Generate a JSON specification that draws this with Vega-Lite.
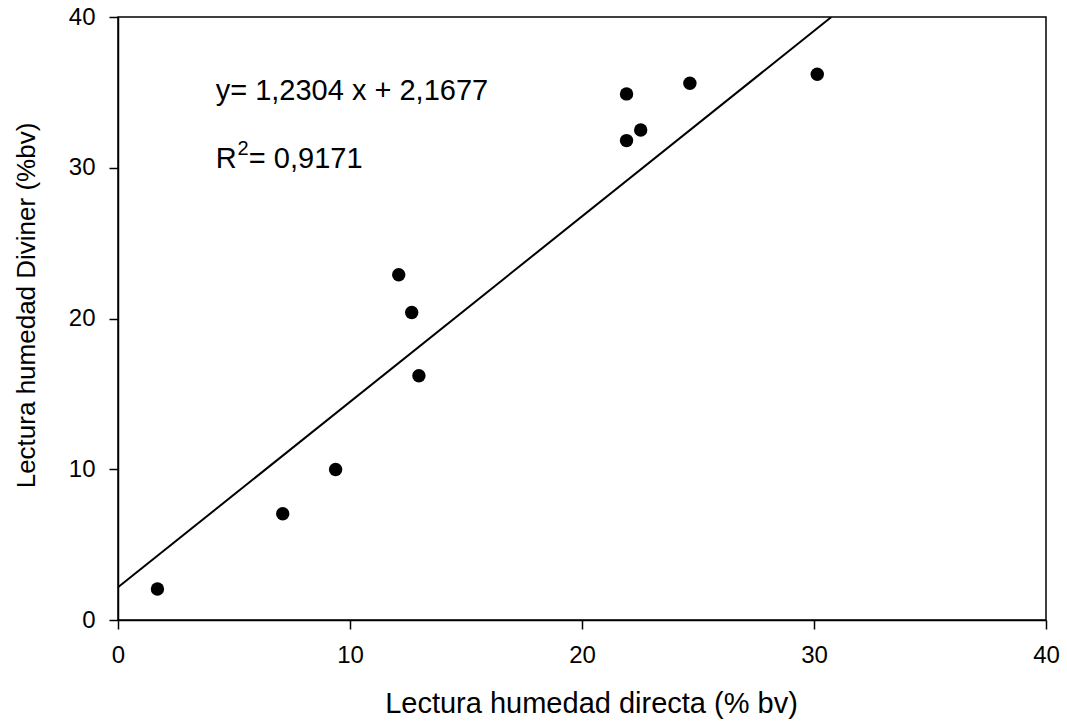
{
  "$schema": "https://vega.github.io/schema/vega-lite/v6.json",
  "width": 928,
  "height": 603,
  "autosize": {"type": "none"},
  "padding": {"left": 118, "top": 17, "right": 21, "bottom": 106},
  "background": "white",
  "config": {
    "font": "Liberation Sans",
    "view": {"stroke": "black", "strokeWidth": 1.5},
    "axis": {
      "grid": false,
      "domainColor": "black",
      "domainWidth": 1.5,
      "tickColor": "black",
      "tickWidth": 1.5,
      "tickSize": 9,
      "labelColor": "black",
      "labelFont": "Liberation Sans",
      "labelFontSize": 24,
      "titleColor": "black",
      "titleFont": "Liberation Sans",
      "titleFontWeight": "normal"
    }
  },
  "datasets": {
    "points": [
      {"directa": 1.70, "diviner": 2.06},
      {"directa": 7.10, "diviner": 7.05},
      {"directa": 9.38, "diviner": 9.98},
      {"directa": 12.10, "diviner": 22.9},
      {"directa": 12.66, "diviner": 20.4},
      {"directa": 12.97, "diviner": 16.2},
      {"directa": 21.92, "diviner": 34.9},
      {"directa": 21.92, "diviner": 31.8},
      {"directa": 22.53, "diviner": 32.5},
      {"directa": 24.65, "diviner": 35.6},
      {"directa": 30.14, "diviner": 36.2}
    ],
    "fit": [
      {"directa": 0, "diviner": 2.1677},
      {"directa": 30.75, "diviner": 40}
    ]
  },
  "layer": [
    {
      "data": {"name": "fit"},
      "mark": {"type": "line", "color": "black", "strokeWidth": 2, "clip": true},
      "encoding": {
        "x": {
          "field": "directa", "type": "quantitative",
          "scale": {"domain": [0, 40], "nice": false, "zero": false},
          "axis": {
            "values": [0, 10, 20, 30, 40],
            "title": "Lectura humedad directa (% bv)",
            "titleFontSize": 29,
            "labelPadding": 14,
            "titlePadding": 22,
            "titleX": 473,
            "labelFlush": false
          }
        },
        "y": {
          "field": "diviner", "type": "quantitative",
          "scale": {"domain": [0, 40], "nice": false, "zero": false},
          "axis": {
            "values": [0, 10, 20, 30, 40],
            "title": "Lectura humedad Diviner (%bv)",
            "titleFontSize": 26,
            "labelPadding": 14,
            "titlePadding": 29,
            "titleY": 288,
            "labelFlush": false
          }
        }
      }
    },
    {
      "data": {"name": "points"},
      "mark": {"type": "point", "shape": "circle", "filled": true, "color": "black", "opacity": 1, "size": 180},
      "encoding": {
        "x": {"field": "directa", "type": "quantitative"},
        "y": {"field": "diviner", "type": "quantitative"}
      }
    },
    {
      "data": {"values": [{"label": "y= 1,2304 x + 2,1677", "tx": 4.21, "ty": 34.5}]},
      "mark": {"type": "text", "align": "left", "baseline": "alphabetic", "fontSize": 29, "font": "Liberation Sans", "color": "black"},
      "encoding": {
        "x": {"field": "tx", "type": "quantitative"},
        "y": {"field": "ty", "type": "quantitative"},
        "text": {"field": "label"}
      }
    },
    {
      "data": {"values": [{"label": "R", "tx": 4.21, "ty": 29.98}, {"label": "= 0,9171", "tx": 5.64, "ty": 29.98}]},
      "mark": {"type": "text", "align": "left", "baseline": "alphabetic", "fontSize": 29, "font": "Liberation Sans", "color": "black"},
      "encoding": {
        "x": {"field": "tx", "type": "quantitative"},
        "y": {"field": "ty", "type": "quantitative"},
        "text": {"field": "label"}
      }
    },
    {
      "data": {"values": [{"label": "2", "tx": 5.15, "ty": 30.86}]},
      "mark": {"type": "text", "align": "left", "baseline": "alphabetic", "fontSize": 20, "font": "Liberation Sans", "color": "black"},
      "encoding": {
        "x": {"field": "tx", "type": "quantitative"},
        "y": {"field": "ty", "type": "quantitative"},
        "text": {"field": "label"}
      }
    }
  ]
}
